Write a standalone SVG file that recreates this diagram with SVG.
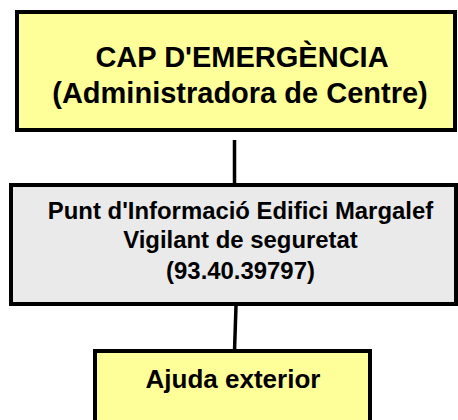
<svg xmlns="http://www.w3.org/2000/svg" width="458" height="420" viewBox="0 0 458 420">
<style>
.box{stroke:#000;stroke-width:4}
.yel{fill:#FFFF99}
.gry{fill:#EAEAEA}
text{font-family:"Liberation Sans",Arial,sans-serif;font-weight:bold;fill:#000;text-anchor:middle}
.t1{font-size:29px}
.t2{font-size:23.9px}
.t3{font-size:26px}
.con{stroke:#000;stroke-width:3.5;fill:none}
</style>
<g id="connectors">
<line class="con" x1="234.5" y1="140" x2="234.5" y2="185"/>
<line class="con" x1="236" y1="306" x2="234.5" y2="351"/>
</g>
<g id="cap">
<rect class="box yel" x="17" y="12" width="438" height="118"/>
<text class="t1" x="242" y="67">CAP D'EMERGÈNCIA</text>
<text class="t1" x="240" y="102.5">(Administradora de Centre)</text>
</g>
<g id="punt">
<rect class="box gry" x="11" y="185" width="445" height="119"/>
<text class="t2" x="240.5" y="219">Punt d'Informació Edifici Margalef</text>
<text class="t2" x="240.5" y="247.5">Vigilant de seguretat</text>
<text class="t2" x="240.5" y="279">(93.40.39797)</text>
</g>
<g id="ajuda">
<rect class="box yel" x="95" y="351" width="275" height="100"/>
<text class="t3" x="233" y="387.5">Ajuda exterior</text>
</g>
</svg>
